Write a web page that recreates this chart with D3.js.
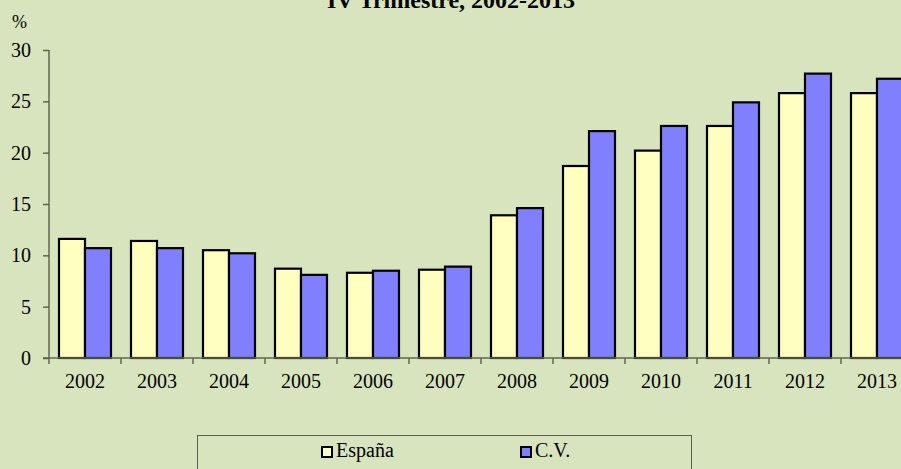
<!DOCTYPE html>
<html><head><meta charset="utf-8">
<script src="https://cdn.jsdelivr.net/npm/d3@7"></script>
<style>
html,body{margin:0;padding:0;background:#d7e4bd;overflow:hidden}
svg{display:block;font-family:"Liberation Serif","Times New Roman",serif}
</style></head>
<body>
<svg id="chart" width="901" height="469"></svg>
<script>
const years = ["2002","2003","2004","2005","2006","2007","2008","2009","2010","2011","2012","2013"];
const espana = [11.6,11.4,10.5,8.7,8.3,8.6,13.9,18.7,20.2,22.6,25.8,25.8];
const cv = [10.7,10.7,10.2,8.1,8.5,8.9,14.6,22.1,22.6,24.9,27.7,27.2];
const seriesNames = ["España","C.V."];
const seriesColors = ["#ffffc0","#8080ff"];
const yTicks = [0,5,10,15,20,25,30];
const title = "IV Trimestre, 2002-2013";

(function(){
const svg = d3.select("#chart");
svg.append("rect").attr("width",901).attr("height",469).attr("fill","#d7e4bd");

const mLeft = 49, mTop = 50, mBottom = 358, bandW = 72;
const x0 = d3.scaleBand().domain(years).range([mLeft, mLeft + bandW*years.length]).padding(0);
const x1 = d3.scaleBand().domain(seriesNames).range([10, 62]).padding(0);
const y = d3.scaleLinear().domain([0,30]).range([mBottom, mTop]);

// title (cut at the top edge, as in the reference)
svg.append("text").attr("x",451).attr("y",8).attr("text-anchor","middle")
  .attr("font-size",24).attr("font-weight","bold").attr("fill","#000").text(title);
svg.append("text").attr("x",12).attr("y",28).attr("font-size",18).attr("fill","#000").text("%");

// bars
const data = years.map((yr,i)=>({year:yr, vals:[espana[i], cv[i]]}));
const g = svg.append("g");
const groups = g.selectAll("g").data(data).join("g")
  .attr("transform", d=>`translate(${x0(d.year)},0)`);
groups.selectAll("rect").data(d=>d.vals.map((v,j)=>({v, s:seriesNames[j], c:seriesColors[j]})))
  .join("rect")
  .attr("x", d=>x1(d.s)).attr("width", x1.bandwidth())
  .attr("y", d=>y(d.v)).attr("height", d=>mBottom - y(d.v))
  .attr("fill", d=>d.c).attr("stroke","#000").attr("stroke-width",2.2);

// y axis
const axisColor = "#5f6650";
const yAxis = svg.append("g").attr("transform",`translate(${mLeft},0)`)
  .call(d3.axisLeft(y).tickValues(yTicks).tickSize(6).tickPadding(12).tickFormat(d3.format("d")));
yAxis.select(".domain").attr("stroke",axisColor).attr("stroke-width",1.5).attr("d",`M0,${mTop}V${mBottom}`);
yAxis.selectAll(".tick line").attr("stroke",axisColor).attr("stroke-width",1.5);
yAxis.selectAll(".tick text").attr("font-size",20).attr("font-family","Liberation Serif").attr("fill","#000").attr("dy","0.32em");

// x axis
const xAxis = svg.append("g").attr("transform",`translate(0,${mBottom})`)
  .call(d3.axisBottom(x0).tickSize(0).tickPadding(10));
xAxis.select(".domain").attr("stroke",axisColor).attr("stroke-width",1.5).attr("d",`M${mLeft-6},0H${mLeft+bandW*years.length}`);
xAxis.selectAll(".tick text").attr("font-size",20).attr("font-family","Liberation Serif").attr("fill","#000").attr("dy","1.0em");
xAxis.selectAll(".bnd").data(years).join("line").attr("class","bnd")
  .attr("x1",d=>x0(d)).attr("x2",d=>x0(d)).attr("y1",0).attr("y2",6)
  .attr("stroke",axisColor).attr("stroke-width",1.5);

// legend
svg.append("rect").attr("x",197.5).attr("y",435.5).attr("width",494).attr("height",60)
  .attr("fill","none").attr("stroke","#5a5f50").attr("stroke-width",1);
const legendX = [321, 520];
const lg = svg.selectAll(".lg").data(seriesNames).join("g").attr("class","lg")
  .attr("transform",(d,i)=>`translate(${legendX[i]},446)`);
lg.append("rect").attr("x",1).attr("y",1).attr("width",10).attr("height",10)
  .attr("fill",(d,i)=>seriesColors[i]).attr("stroke","#000").attr("stroke-width",2);
lg.append("text").attr("x",15).attr("y",11).attr("font-size",20).attr("fill","#000").text(d=>d);
})();
</script>
</body></html>
